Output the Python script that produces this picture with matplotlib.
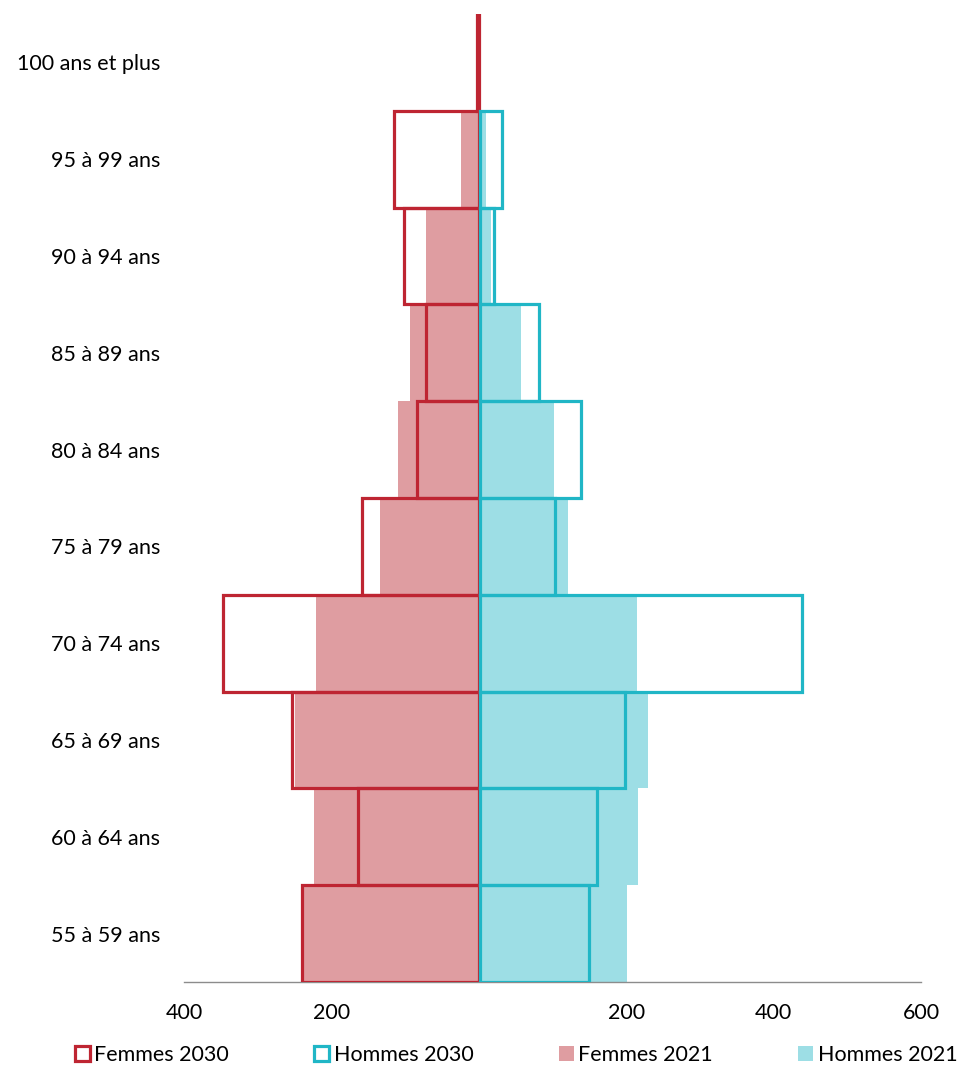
import matplotlib.pyplot as plt
import matplotlib.patches as mpatches
import numpy as np

# Tranches d'âge (du bas vers le haut)
ages = ["55 à 59 ans", "60 à 64 ans", "65 à 69 ans", "70 à 74 ans", "75 à 79 ans",
        "80 à 84 ans", "85 à 89 ans", "90 à 94 ans", "95 à 99 ans", "100 ans et plus"]

femmes_2030 = [240, 164, 254, 347, 159, 84, 71, 102, 115, 3]
hommes_2030 = [148, 159, 197, 437, 102, 137, 80, 19, 29, 0]
femmes_2021 = [240, 224, 250, 221, 134, 110, 94, 71, 24, 1]
hommes_2021 = [201, 216, 229, 214, 121, 102, 57, 16, 10, 0]

xticks = [-400, -200, 200, 400, 600]
xtick_labels = ["400", "200", "200", "400", "600"]

rouge = "#BE2532"
turquoise = "#20B6C6"
rose = "#DF9DA1"
bleu_clair = "#9DDEE5"

plt.rcParams['font.family'] = ['Lato', 'DejaVu Sans']
fs = 15.5

fig = plt.figure(figsize=(9.59, 10.74), dpi=100)
ax = fig.add_axes([184/959, 1-982/1074, (921-184)/959, (982-14)/1074])

y = np.arange(len(ages))

# 2021 : barres pleines
ax.barh(y, -np.array(femmes_2021), height=1.0, color=rose, linewidth=0, zorder=1)
ax.barh(y, hommes_2021, height=1.0, color=bleu_clair, linewidth=0, zorder=1)

# axe vertical au centre
ax.axvline(0, color="#8C8C8C", linewidth=1, zorder=2)

# 2030 : contours (pas de contour pour les valeurs nulles)
lw_f = [2.3 if v > 0 else 0 for v in femmes_2030]
lw_h = [2.3 if v > 0 else 0 for v in hommes_2030]
ax.barh(y, -np.array(femmes_2030), height=1.0, facecolor='none', edgecolor=rouge,
        linewidth=lw_f, zorder=3)
ax.barh(y, hommes_2030, height=1.0, left=2, facecolor='none', edgecolor=turquoise,
        linewidth=lw_h, zorder=3)

ax.set_xlim(-400, 600)
ax.set_ylim(-0.5, len(ages) - 0.5)
ax.set_yticks(y)
ax.set_yticklabels(ages, fontsize=fs)
ax.set_xticks(xticks)
ax.set_xticklabels(xtick_labels, fontsize=fs)
ax.tick_params(axis='y', length=0, pad=17)
ax.tick_params(axis='x', length=0, pad=15)

for s in ['top', 'right', 'left']:
    ax.spines[s].set_visible(False)
ax.spines['bottom'].set_color("#8C8C8C")
ax.spines['bottom'].set_linewidth(1)

handles = [
    mpatches.Patch(facecolor='white', edgecolor=rouge, linewidth=2.3, label="Femmes 2030"),
    mpatches.Patch(facecolor='white', edgecolor=turquoise, linewidth=2.3, label="Hommes 2030"),
    mpatches.Patch(facecolor=rose, edgecolor='none', label="Femmes 2021"),
    mpatches.Patch(facecolor=bleu_clair, edgecolor='none', label="Hommes 2021"),
]
fig.legend(handles=handles, loc='center', ncol=4, frameon=False, fontsize=fs,
           bbox_to_anchor=(66/959, 1-1070/1074, (966-66)/959, 30/1074), mode='expand',
           handlelength=0.7, handleheight=0.7, handletextpad=0.2, borderaxespad=0)

fig.savefig("out.png", dpi=100)
